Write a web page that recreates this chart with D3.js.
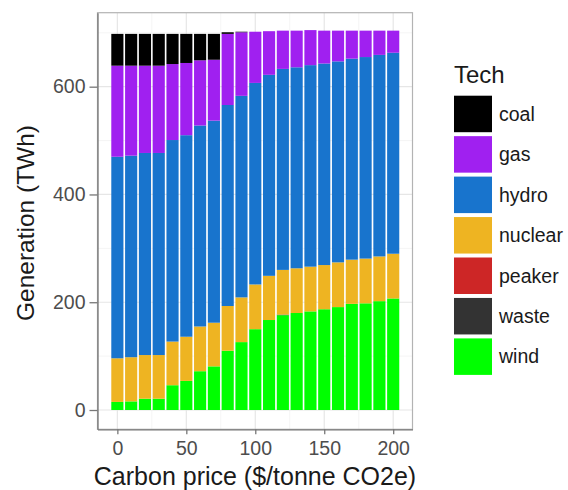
<!DOCTYPE html>
<html>
<head>
<meta charset="utf-8">
<script src="https://cdn.jsdelivr.net/npm/d3@7"></script>
<style>
  body { margin: 0; background: #fff; }
  svg { display: block; font-family: "Liberation Sans", Arial, sans-serif; }
</style>
</head>
<body>
<svg width="568" height="490"></svg>
<script>
// carbon price ($/tonne CO2e)
var prices = [0, 10, 20, 30, 40, 50, 60, 70, 80, 90, 100, 110, 120, 130, 140, 150, 160, 170, 180, 190, 200];

// generation by tech (TWh)
var coal    = [59, 59, 59, 59, 56, 54, 49, 48, 3, 1, 0, 0, 0, 0, 0, 0, 0, 0, 0, 0, 0];
var gas     = [169, 167, 162, 162, 141, 134, 121, 113, 132, 118, 95, 81, 71, 68, 65, 61, 57, 52, 49, 45, 41];
var hydro   = [374, 374, 375, 375, 374, 374, 373, 375, 373, 374, 374, 373, 373, 373, 374, 374, 373, 373, 374, 374, 373];
var nuclear = [81, 82, 81, 81, 81, 82, 83, 81, 83, 83, 83, 82, 83, 83, 83, 82, 83, 82, 83, 83, 83];
var peaker  = [0, 0, 0, 0, 0, 0, 0, 0, 0, 0, 0, 0, 0, 0, 0, 0, 0, 0, 0, 0, 0];
var waste   = [0, 0, 0, 0, 0, 0, 0, 0, 0, 0, 0, 0, 1, 0, 0, 0, 0, 0, 0, 0, 0];
var wind    = [15, 16, 21, 21, 46, 54, 72, 81, 110, 126, 150, 167, 176, 180, 183, 187, 191, 197, 198, 202, 207];

var techs = ["coal", "gas", "hydro", "nuclear", "peaker", "waste", "wind"];
var techColors = ["#000000", "#A020F0", "#1874CD", "#EEB422", "#CD2626", "#333333", "#00FF00"];
var xTicks = [0, 50, 100, 150, 200];
var yTicks = [0, 200, 400, 600];

var series = { coal: coal, gas: gas, hydro: hydro, nuclear: nuclear, peaker: peaker, waste: waste, wind: wind };
var rows = prices.map(function(p, i) {
    var r = { price: p };
    techs.forEach(function(t) { r[t] = series[t][i]; });
    return r;
});

var svg = d3.select("svg");

var pLeft = 97.5, pRight = 412.5, pTop = 12.7, pBottom = 429.3;

var x = d3.scaleLinear().domain([-14.4, 214]).range([pLeft, pRight]);
var y = d3.scaleLinear().domain([-35.8, 737.3]).range([pBottom, pTop]);

var color = d3.scaleOrdinal().domain(techs).range(techColors);

// grid
var grid = svg.append("g");
grid.selectAll(".ymin").data([100, 300, 500, 700]).enter().append("line")
    .attr("x1", pLeft).attr("x2", pRight)
    .attr("y1", function(d) { return y(d); }).attr("y2", function(d) { return y(d); })
    .attr("stroke", "#f2f2f2").attr("stroke-width", 0.8);
grid.selectAll(".xmin").data([25, 75, 125, 175]).enter().append("line")
    .attr("y1", pTop).attr("y2", pBottom)
    .attr("x1", function(d) { return x(d); }).attr("x2", function(d) { return x(d); })
    .attr("stroke", "#f2f2f2").attr("stroke-width", 0.8);
grid.selectAll(".ymaj").data(yTicks).enter().append("line")
    .attr("x1", pLeft).attr("x2", pRight)
    .attr("y1", function(d) { return y(d); }).attr("y2", function(d) { return y(d); })
    .attr("stroke", "#e6e6e6").attr("stroke-width", 1.2);
grid.selectAll(".xmaj").data(xTicks).enter().append("line")
    .attr("y1", pTop).attr("y2", pBottom)
    .attr("x1", function(d) { return x(d); }).attr("x2", function(d) { return x(d); })
    .attr("stroke", "#e6e6e6").attr("stroke-width", 1.2);

// bars, wind at the bottom, coal on top
var stack = d3.stack().keys(techs.slice().reverse());
var layers = stack(rows);

svg.append("g").selectAll("g")
    .data(layers)
    .enter().append("g")
    .attr("fill", function(d) { return color(d.key); })
    .selectAll("rect")
    .data(function(d) { return d; })
    .enter().append("rect")
    .attr("x", function(d) { return x(d.data.price - 4.4); })
    .attr("width", x(8.8) - x(0))
    .attr("y", function(d) { return y(d[1]); })
    .attr("height", function(d) { return y(d[0]) - y(d[1]); });

// panel border
svg.append("rect")
    .attr("x", pLeft).attr("y", pTop)
    .attr("width", pRight - pLeft).attr("height", pBottom - pTop)
    .attr("fill", "none").attr("stroke", "#b3b3b3").attr("stroke-width", 1.2);

// axes
var xAxis = svg.append("g")
    .attr("transform", "translate(0," + pBottom + ")")
    .call(d3.axisBottom(x).tickValues(xTicks).tickSize(5).tickSizeOuter(0).tickPadding(7));
var yAxis = svg.append("g")
    .attr("transform", "translate(" + pLeft + ",0)")
    .call(d3.axisLeft(y).tickValues(yTicks).tickSize(8).tickSizeOuter(0).tickPadding(4));

[xAxis, yAxis].forEach(function(a) {
    a.select(".domain").attr("stroke", "#777").attr("stroke-width", 1.3);
    a.selectAll(".tick line").attr("stroke", "#777").attr("stroke-width", 1.3);
    a.selectAll(".tick text").attr("fill", "#4d4d4d").style("font-size", "19.5px")
        .style("font-family", "'Liberation Sans', Arial, sans-serif");
});

// axis titles
svg.append("text")
    .attr("x", 255).attr("y", 485)
    .attr("text-anchor", "middle")
    .style("font-size", "25px").attr("fill", "#1a1a1a")
    .text("Carbon price ($/tonne CO2e)");

svg.append("text")
    .attr("transform", "translate(34," + ((pTop + pBottom) / 2 + 2) + ") rotate(-90)")
    .attr("text-anchor", "middle")
    .style("font-size", "24.5px").attr("fill", "#1a1a1a")
    .text("Generation (TWh)");

// legend
var legend = svg.append("g").attr("transform", "translate(454,0)");
legend.append("text")
    .attr("x", 0).attr("y", 83)
    .style("font-size", "24px").attr("fill", "#1a1a1a")
    .text("Tech");

var item = legend.selectAll(".item").data(techs).enter().append("g")
    .attr("transform", function(d, i) { return "translate(0," + (95.7 + i * 40.45) + ")"; });
item.append("rect")
    .attr("width", 38).attr("height", 36.5)
    .attr("fill", function(d) { return color(d); });
item.append("text")
    .attr("x", 45).attr("y", 18.25).attr("dy", "0.35em")
    .style("font-size", "19.5px").attr("fill", "#1a1a1a")
    .text(function(d) { return d; });
</script>
</body>
</html>
